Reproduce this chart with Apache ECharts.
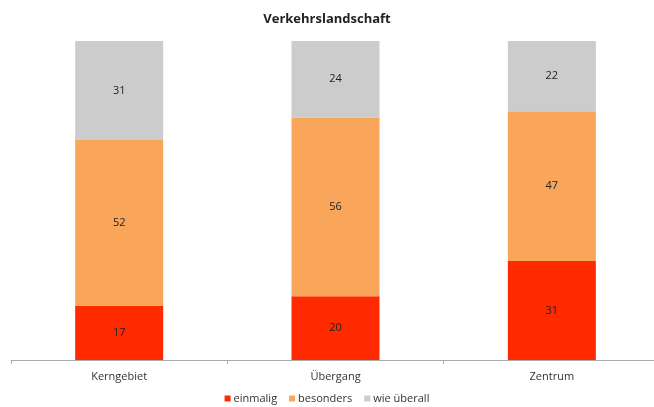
<!DOCTYPE html>
<html>
<head>
<meta charset="utf-8">
<script src="https://cdn.jsdelivr.net/npm/echarts@6/dist/echarts.min.js"></script>
<style>
  html, body { margin: 0; padding: 0; background: #fff; }
  #chart { width: 654px; height: 407px; }
</style>
</head>
<body>
<div id="chart"></div>
<script>
// Kategorien und Werte (Prozent)
var categories = ['Kerngebiet', 'Übergang', 'Zentrum'];
var einmalig = [17, 20, 31];
var besonders = [52, 56, 47];
var wieUeberall = [31, 24, 22];

var colors = ['#ff2a00', '#f9a65a', '#cccccc'];

function barSeries(name, data, color) {
    return {
        name: name,
        type: 'bar',
        stack: 'gesamt',
        barWidth: 88,
        data: data,
        itemStyle: { color: color },
        label: {
            show: true,
            position: 'inside',
            color: '#222',
            fontSize: 11,
            fontFamily: 'Open Sans'
        }
    };
}

var chart = echarts.init(document.getElementById('chart'));
chart.setOption({
    animation: false,
    title: {
        text: 'Verkehrslandschaft',
        left: 'center',
        top: 8,
        textStyle: { fontSize: 13, fontWeight: 'bold', color: '#222', fontFamily: 'Open Sans' }
    },
    legend: {
        bottom: -2,
        left: 'center',
        itemWidth: 6,
        itemHeight: 6,
        itemGap: 12,
        icon: 'rect',
        textStyle: { fontSize: 11, color: '#333', fontFamily: 'Open Sans', padding: [0, 0, 0, -2] },
        data: ['einmalig', 'besonders', 'wie überall']
    },
    grid: { left: 11, right: -6, top: 41, bottom: 47, outerBoundsMode: 'none', containLabel: false },
    xAxis: {
        type: 'category',
        data: categories,
        axisLine: { lineStyle: { color: '#aaa' } },
        axisTick: { show: true, length: 4, lineStyle: { color: '#aaa' } },
        axisLabel: { color: '#333', fontSize: 11, fontFamily: 'Open Sans', margin: 11 }
    },
    yAxis: {
        type: 'value',
        min: 0,
        max: 100,
        show: false
    },
    series: [
        barSeries('einmalig', einmalig, colors[0]),
        barSeries('besonders', besonders, colors[1]),
        barSeries('wie überall', wieUeberall, colors[2])
    ]
});
</script>
</body>
</html>
